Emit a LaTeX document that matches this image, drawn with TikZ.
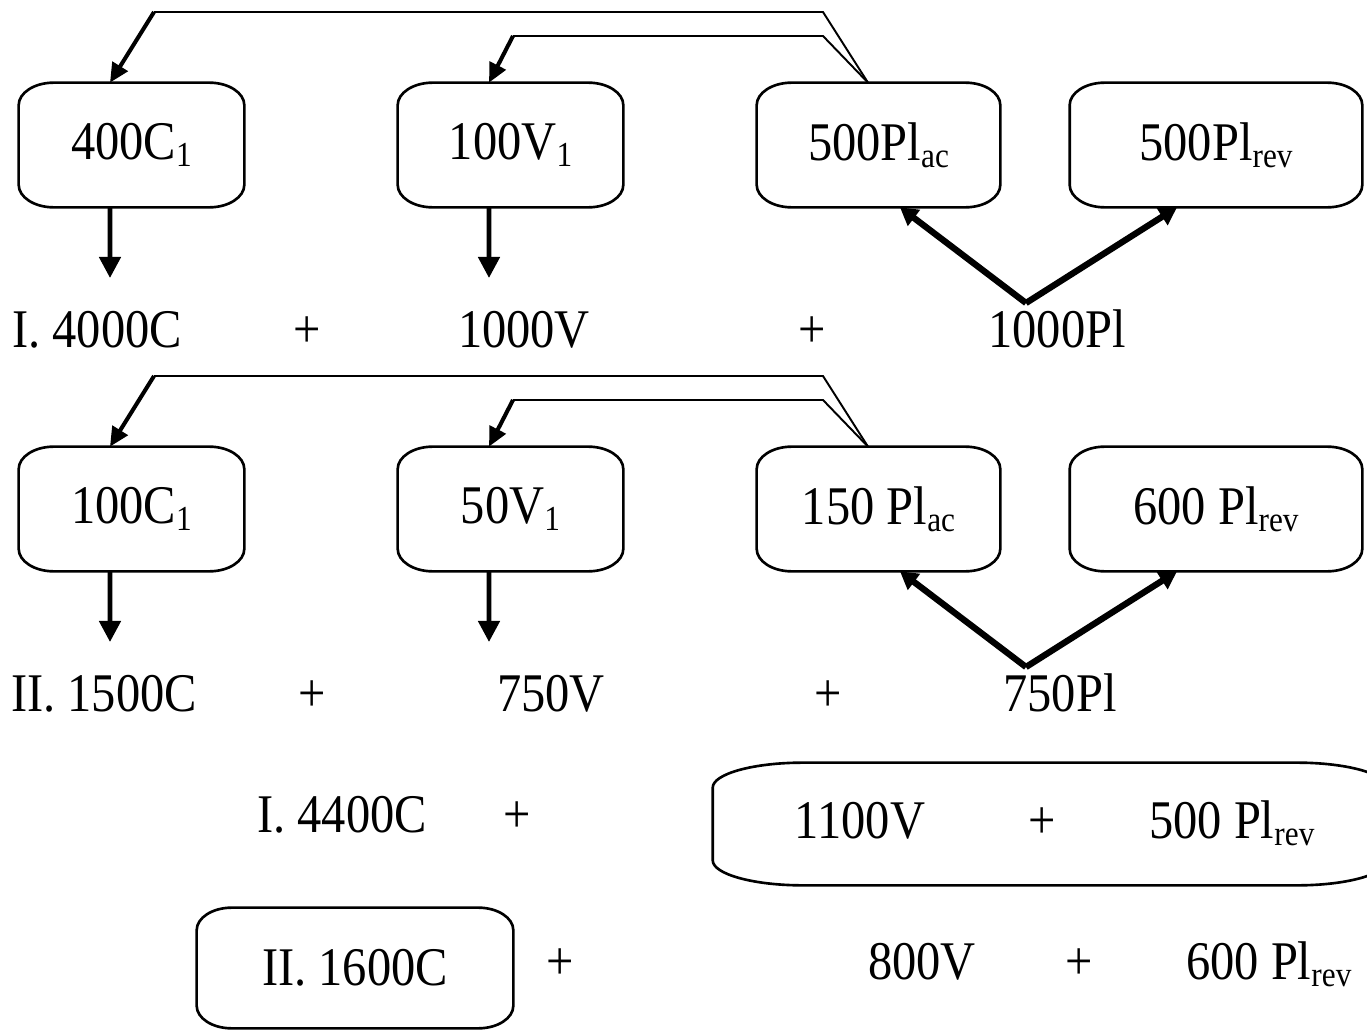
\documentclass[tikz,border=0pt]{standalone}
\usepackage{fontspec}
\setmainfont{Liberation Serif}[FakeStretch=0.89]
\usetikzlibrary{arrows.meta}

% small lowered index
\newcommand{\lowidx}[1]{\raisebox{-4pt}{\fontsize{20}{20}\selectfont #1}}

% outline with flat elliptic corners round a node
\newcommand{\boxoutline}[3]{%
  \draw[boxline] ([xshift=#2]#1.north west) -- ([xshift=-#2]#1.north east)
    .. controls ([xshift=-0.45*#2]#1.north east) and ([yshift=-0.45*#3]#1.north east) .. ([yshift=-#3]#1.north east)
    -- ([yshift=#3]#1.south east)
    .. controls ([yshift=0.45*#3]#1.south east) and ([xshift=-0.45*#2]#1.south east) .. ([xshift=-#2]#1.south east)
    -- ([xshift=#2]#1.south west)
    .. controls ([xshift=0.45*#2]#1.south west) and ([yshift=0.45*#3]#1.south west) .. ([yshift=#3]#1.south west)
    -- ([yshift=-#3]#1.north west)
    .. controls ([yshift=-0.45*#3]#1.north west) and ([xshift=0.45*#2]#1.north west) .. ([xshift=#2]#1.north west) -- cycle;}

\begin{document}
\begin{tikzpicture}[x=0.02cm, y=-0.02cm, font=\fontsize{31}{37}\selectfont,
    stock/.style={inner sep=0pt, minimum height=2.48cm},
    boxline/.style={line width=1.5pt, line join=round},
    feedline/.style={line width=1.1pt},
    feedarrow/.style={line width=2.3pt, -{Triangle[length=11pt,width=10pt]}},
    downarrow/.style={line width=2.6pt, -{Triangle[length=12pt,width=12pt]}},
    splitarrow/.style={line width=3.6pt, -{Triangle[length=10pt,width=11pt]}}]
    \useasboundingbox (0,0) rectangle (1367,1031);
    \clip (0,0) rectangle (1367,1031);

    % Define nodes (run I)
    \node[stock, minimum width=4.5cm] (c1) at (131.5,145) {400C\lowidx{1}};
    \node[stock, minimum width=4.5cm] (v1) at (510.5,145) {100V\lowidx{1}};
    \node[stock, minimum width=4.86cm] (pa1) at (878.5,145) {500Pl\lowidx{ac}};
    \node[stock, minimum width=5.84cm] (pr1) at (1216,145) {500Pl\lowidx{rev}};
    \node[anchor=base] (tc1) at (97,347) {I. 4000C};
    \node[anchor=base] (pl1a) at (307,347) {+};
    \node[anchor=base] (tv1) at (524,347) {1000V};
    \node[anchor=base] (pl1b) at (812,347) {+};
    \node[anchor=base] (tp1) at (1057,347) {1000Pl};

    % Define nodes (run II)
    \node[stock, minimum width=4.5cm] (c2) at (131.5,509) {100C\lowidx{1}};
    \node[stock, minimum width=4.5cm] (v2) at (510.5,509) {50V\lowidx{1}};
    \node[stock, minimum width=4.86cm] (pa2) at (878.5,509) {150 Pl\lowidx{ac}};
    \node[stock, minimum width=5.84cm] (pr2) at (1216,509) {600 Pl\lowidx{rev}};
    \node[anchor=base] (tc2) at (104,711) {II. 1500C};
    \node[anchor=base] (pl2a) at (312,711) {+};
    \node[anchor=base] (tv2) at (551,711) {750V};
    \node[anchor=base] (pl2b) at (828,711) {+};
    \node[anchor=base] (tp2) at (1060,711) {750Pl};

    % Define nodes (totals)
    \node[anchor=base] (sc1) at (342,832) {I. 4400C};
    \node[anchor=base] (sp1) at (517,832) {+};
    \node[inner sep=0pt, minimum width=13.48cm, minimum height=2.44cm] (sum1) at (1050,824) {};
    \node[anchor=base] (sv1) at (860,838) {1100V};
    \node[anchor=base] (sp1b) at (1042,838) {+};
    \node[anchor=base west] (sr1) at (1143,838) {500 Pl\lowidx{rev}};
    \node[stock, minimum width=6.32cm, minimum height=2.4cm] (sc2) at (355,968) {II. 1600C};
    \node[anchor=base] (sp2) at (560,979) {+};
    \node[anchor=base] (sv2) at (922,979) {800V};
    \node[anchor=base] (sp2b) at (1079,979) {+};
    \node[anchor=base west] (sr2) at (1180,979) {600 Pl\lowidx{rev}};

    % Define outlines
    \foreach \b in {c1,v1,pa1,pr1,c2,v2,pa2,pr2,sc2} {\boxoutline{\b}{0.7cm}{0.45cm}}
    \boxoutline{sum1}{1.8cm}{0.5cm}

    % Define connections (run I)
    \coordinate (k1) at (823,12);
    \coordinate (k2) at (154,12);
    \coordinate (k3) at (823,36);
    \coordinate (k4) at (513,36);
    \coordinate (e1) at (110,278);
    \coordinate (e2) at (489,278);
    \coordinate (s1) at (1026,303);
    \draw[feedline] ([xshift=-0.21cm]pa1.north) -- (k1) -- (k2);
    \draw[feedarrow] (k2) -- ([xshift=-0.43cm]c1.north);
    \draw[feedline] ([xshift=-0.21cm]pa1.north) -- (k3) -- (k4);
    \draw[feedarrow] (k4) -- ([xshift=-0.43cm]v1.north);
    \draw[downarrow] ([xshift=-0.43cm]c1.south) -- (e1);
    \draw[downarrow] ([xshift=-0.43cm]v1.south) -- (e2);
    \draw[splitarrow] (s1) -- ([xshift=0.43cm]pa1.south);
    \draw[splitarrow] (s1) -- ([xshift=-0.78cm]pr1.south);

    % Define connections (run II)
    \coordinate (k5) at (823,376);
    \coordinate (k6) at (154,376);
    \coordinate (k7) at (823,400);
    \coordinate (k8) at (513,400);
    \coordinate (e3) at (110,642);
    \coordinate (e4) at (489,642);
    \coordinate (s2) at (1026,667);
    \draw[feedline] ([xshift=-0.21cm]pa2.north) -- (k5) -- (k6);
    \draw[feedarrow] (k6) -- ([xshift=-0.43cm]c2.north);
    \draw[feedline] ([xshift=-0.21cm]pa2.north) -- (k7) -- (k8);
    \draw[feedarrow] (k8) -- ([xshift=-0.43cm]v2.north);
    \draw[downarrow] ([xshift=-0.43cm]c2.south) -- (e3);
    \draw[downarrow] ([xshift=-0.43cm]v2.south) -- (e4);
    \draw[splitarrow] (s2) -- ([xshift=0.43cm]pa2.south);
    \draw[splitarrow] (s2) -- ([xshift=-0.78cm]pr2.south);
\end{tikzpicture}
\end{document}
